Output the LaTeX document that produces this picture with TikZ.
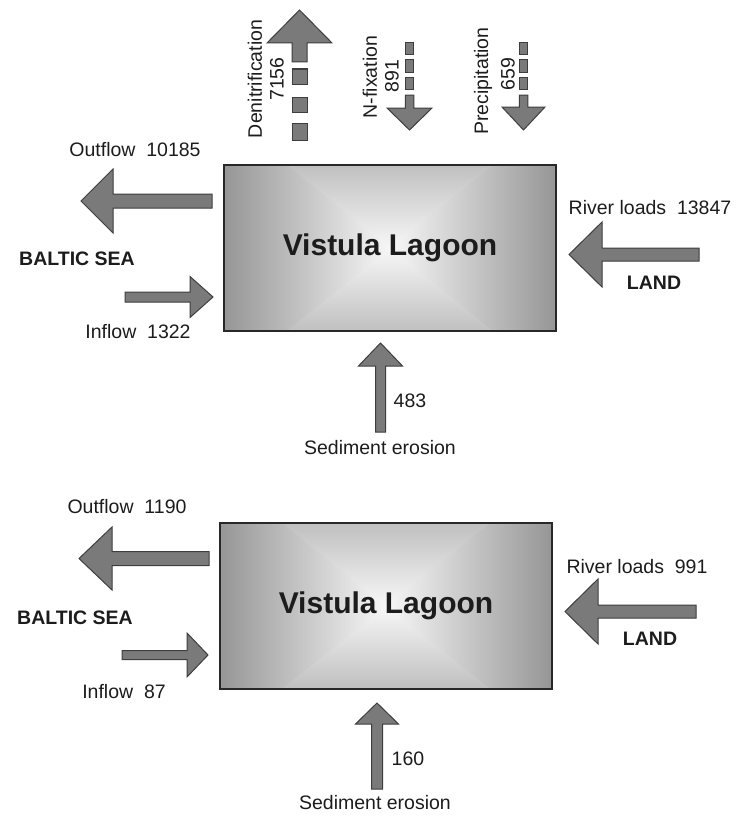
\documentclass[tikz,border=0pt]{standalone}
\usepackage{fontspec}
\setmainfont{Liberation Sans}
\definecolor{arrfill}{RGB}{122,122,122}
\definecolor{arrline}{RGB}{62,62,62}
\definecolor{boxline}{RGB}{40,40,40}
\definecolor{hedge}{RGB}{150,150,150}
\definecolor{vedge}{RGB}{192,192,192}
\definecolor{boxmid}{RGB}{247,247,247}
\definecolor{txt}{RGB}{28,28,28}
\tikzset{
  blockarrow/.style={fill=arrfill, draw=arrline, line width=1pt, line join=miter},
  lbl/.style={font=\fontsize{19.5}{22}\selectfont, text=txt, inner sep=0pt},
  boldlbl/.style={font=\fontsize{19.5}{22}\selectfont\bfseries, text=txt, inner sep=0pt},
  lagoon/.style={draw=boxline, line width=2.5pt, minimum width=332pt, minimum height=166pt,
    font=\fontsize{30}{34}\selectfont\bfseries, text=txt, inner sep=0pt}
}
% horizontal block arrow: tipx tipy headx headhalf tailx shafthalf
\newcommand\hblock[6]{%
  \draw[blockarrow] (#1,#2) -- (#3,#2-#4) -- (#3,#2-#6) -- (#5,#2-#6) -- (#5,#2+#6) -- (#3,#2+#6) -- (#3,#2+#4) -- cycle;}
% vertical block arrow: tipx tipy heady headhalf taily shafthalf
\newcommand\vblock[6]{%
  \draw[blockarrow] (#1,#2) -- (#1+#4,#3) -- (#1+#6,#3) -- (#1+#6,#5) -- (#1-#6,#5) -- (#1-#6,#3) -- (#1-#4,#3) -- cycle;}
% shaded lagoon background: x1 y1 x2 y2 cx cy innerdx
\newcommand\lagoonshade[7]{%
  \shade[top color=vedge, bottom color=vedge, middle color=boxmid] (#1,#2) rectangle (#3,#4);
  \begin{scope}
    \clip (#5,#6) -- (#5+#7,#2) -- (#3,#2) -- (#3,#4) -- (#5+#7,#4) -- cycle
          (#5,#6) -- (#5-#7,#2) -- (#1,#2) -- (#1,#4) -- (#5-#7,#4) -- cycle;
    \shade[left color=hedge, right color=hedge, middle color=boxmid] (#1,#2) rectangle (#3,#4);
  \end{scope}}
\begin{document}
\begin{tikzpicture}[x=1pt, y=-1pt]
\useasboundingbox (0,0) rectangle (736,816);

% ---------------- top diagram ----------------
\lagoonshade{224}{165}{556}{331}{390}{248}{103}
\node[lagoon] (lag1) at (390,248) {Vistula Lagoon};

% vertical fluxes on top
\vblock{299.5}{10}{43}{32.5}{62}{7.5}
\draw[blockarrow] (292,69) rectangle (307,84);
\draw[blockarrow] (292,97) rectangle (307,112);
\draw[blockarrow] (292,123) rectangle (307,140);
\node[lbl, rotate=90] (den) at (255,79) {Denitrification};
\node[lbl, rotate=90] (denv) at (277,79) {7156};

\vblock{409.5}{130}{108}{22.5}{95}{4.25}
\draw[blockarrow] (405.25,43) rectangle (413.75,55);
\draw[blockarrow] (405.25,60) rectangle (413.75,72);
\draw[blockarrow] (405.25,77) rectangle (413.75,89);
\node[lbl, rotate=90] (nfix) at (370,77) {N-fixation};
\node[lbl, rotate=90] (nfixv) at (392,76) {891};

\vblock{523.5}{130}{107}{21.5}{95}{4.25}
\draw[blockarrow] (519.25,43) rectangle (527.75,55);
\draw[blockarrow] (519.25,60) rectangle (527.75,72);
\draw[blockarrow] (519.25,77) rectangle (527.75,89);
\node[lbl, rotate=90] (prec) at (483,81) {Precipitation};
\node[lbl, rotate=90] (precv) at (508,74) {659};

% sea side
\hblock{81}{201}{113}{32}{212}{7}
\node[lbl] (out1) at (135,150) {Outflow~~10185};
\node[boldlbl] (sea1) at (77,259) {BALTIC SEA};
\hblock{213}{297}{190}{20.5}{125}{5}
\node[lbl] (in1) at (138,332) {Inflow~~1322};

% land side
\hblock{569}{254.5}{602}{32.5}{699}{6.5}
\node[lbl] (riv1) at (650,208) {River loads~~13847};
\node[boldlbl] (land1) at (654,283) {LAND};

% sediment
\vblock{380.5}{343}{366}{22}{432}{5}
\node[lbl] (sedv1) at (410,401) {483};
\node[lbl] (sed1) at (380,448) {Sediment erosion};

% ---------------- bottom diagram ----------------
\lagoonshade{220}{524}{552}{688}{386}{606}{103}
\node[lagoon] (lag2) at (386,606) {Vistula Lagoon};

\hblock{79}{558.5}{112}{31.5}{209}{7}
\node[lbl] (out2) at (127,507) {Outflow~~1190};
\node[boldlbl] (sea2) at (75,618) {BALTIC SEA};
\hblock{208}{655}{187}{22}{122}{4.5}
\node[lbl] (in2) at (124,692) {Inflow~~87};

\hblock{565}{611.5}{598}{32.5}{696}{6.5}
\node[lbl] (riv2) at (637,567) {River loads~~991};
\node[boldlbl] (land2) at (650,639) {LAND};

\vblock{377}{703}{724}{21.5}{789}{5.5}
\node[lbl] (sedv2) at (408,759) {160};
\node[lbl] (sed2) at (375,803) {Sediment erosion};
\end{tikzpicture}
\end{document}
